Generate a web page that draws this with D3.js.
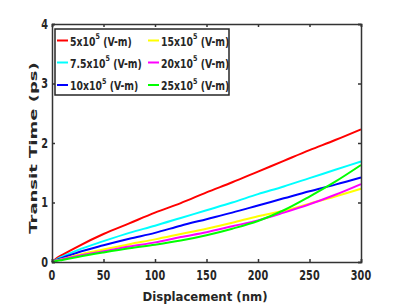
<!DOCTYPE html>
<html><head><meta charset="utf-8">
<script src="https://cdn.jsdelivr.net/npm/d3@7"></script>
<style>body{margin:0;background:#fff}svg{display:block}</style>
</head><body><svg id="c" width="399" height="307"></svg>
<script>
const xValues = [0, 5, 10, 25, 50, 75, 100, 125, 150, 175, 200, 225, 250, 275, 300];
const field5 = [0, 0.07, 0.12, 0.26, 0.47, 0.65, 0.83, 0.99, 1.17, 1.34, 1.52, 1.70, 1.88, 2.05, 2.23];
const field7_5 = [0, 0.05, 0.09, 0.20, 0.35, 0.49, 0.61, 0.74, 0.87, 1.00, 1.14, 1.27, 1.41, 1.55, 1.69];
const field10 = [0, 0.04, 0.07, 0.16, 0.28, 0.39, 0.49, 0.61, 0.72, 0.83, 0.95, 1.07, 1.19, 1.30, 1.42];
const field15 = [0, 0.03, 0.05, 0.12, 0.21, 0.30, 0.38, 0.47, 0.56, 0.66, 0.77, 0.86, 0.98, 1.10, 1.23];
const field20 = [0, 0.025, 0.045, 0.10, 0.18, 0.26, 0.33, 0.42, 0.50, 0.60, 0.70, 0.83, 0.97, 1.13, 1.31];
const field25 = [0, 0.02, 0.035, 0.085, 0.16, 0.23, 0.29, 0.36, 0.45, 0.56, 0.69, 0.87, 1.10, 1.35, 1.63];
const seriesNames = ["5", "7.5", "10", "15", "20", "25"];
const seriesColors = ["#ff0000", "#00ffff", "#0000ff", "#ffff00", "#ff00ff", "#00ff00"];
const xTicks = [0, 50, 100, 150, 200, 250, 300];
const yTicks = [0, 1, 2, 3, 4];
const xLabel = "Displacement (nm)";
const yLabel = "Transit Time (ps)";

const seriesData = [field5, field7_5, field10, field15, field20, field25];
const svg = d3.select("#c");
const L = 52, R = 361, T = 24, B = 262;
const x = d3.scaleLinear().domain([0, 300]).range([L, R]);
const y = d3.scaleLinear().domain([0, 4]).range([B, T]);
const axisColor = "#333";
const font = "'DejaVu Sans', sans-serif";

function txt(g, xx, yy, s, size, anchor, sx, rot) {
  const t = g.append("text")
    .attr("transform", `translate(${xx},${yy})` + (rot ? ` rotate(${rot}) scale(1,${sx})` : ` scale(${sx},1)`))
    .attr("font-family", font).attr("font-weight", "bold")
    .attr("font-size", size).attr("fill", "#262626")
    .attr("text-anchor", anchor).attr("dominant-baseline", "central");
  if (s != null) t.text(s);
  return t;
}

// lines
const line = d3.line().x((d, i) => x(xValues[i])).y(d => y(d)).curve(d3.curveMonotoneX);
const plot = svg.append("g");
seriesData.forEach((s, i) => {
  plot.append("path").datum(s).attr("d", line)
    .attr("fill", "none").attr("stroke", seriesColors[i]).attr("stroke-width", 2);
});

// axes
const gx = svg.append("g").attr("transform", `translate(0,${B})`)
  .call(d3.axisBottom(x).tickValues(xTicks).tickSize(-3).tickFormat(""));
const gxt = svg.append("g").attr("transform", `translate(0,${T})`)
  .call(d3.axisTop(x).tickValues(xTicks).tickSize(-3).tickFormat(""));
const gy = svg.append("g").attr("transform", `translate(${L},0)`)
  .call(d3.axisLeft(y).tickValues(yTicks).tickSize(-3).tickFormat(""));
const gyr = svg.append("g").attr("transform", `translate(${R},0)`)
  .call(d3.axisRight(y).tickValues(yTicks).tickSize(-3).tickFormat(""));
[gx, gxt, gy, gyr].forEach(g => {
  g.selectAll("path").attr("stroke", axisColor).attr("stroke-width", 1.5);
  g.selectAll("line").attr("stroke", axisColor).attr("stroke-width", 1.5);
});

const labels = svg.append("g");
xTicks.forEach(v => txt(labels, x(v), 275, String(v), 13.5, "middle", 0.72));
yTicks.forEach(v => txt(labels, 48, y(v), String(v), 13.5, "end", 0.72));
txt(labels, 205, 297, xLabel, 13, "middle", 0.9);
txt(labels, 33, 148, yLabel, 18, "middle", 0.6, -90);

// legend
const leg = svg.append("g");
leg.append("rect").attr("x", 55).attr("y", 29).attr("width", 174).attr("height", 66)
  .attr("fill", "#fff").attr("stroke", "#262626").attr("stroke-width", 1.5);
const rowsY = [40.5, 62.5, 85];
seriesNames.forEach((n, i) => {
  const col = Math.floor(i / 3), row = i % 3;
  const lx = col === 0 ? 57 : 148;
  leg.append("line").attr("x1", lx).attr("x2", lx + 11).attr("y1", rowsY[row]).attr("y2", rowsY[row])
    .attr("stroke", seriesColors[i]).attr("stroke-width", 2);
  const t = txt(leg, lx + 13, rowsY[row] + 1, null, 11.5, "start", 0.81);
  t.append("tspan").text(n + "x10");
  t.append("tspan").attr("baseline-shift", "super").attr("font-size", 8).text("5");
  t.append("tspan").text(" (V-m)");
});
</script></body></html>
